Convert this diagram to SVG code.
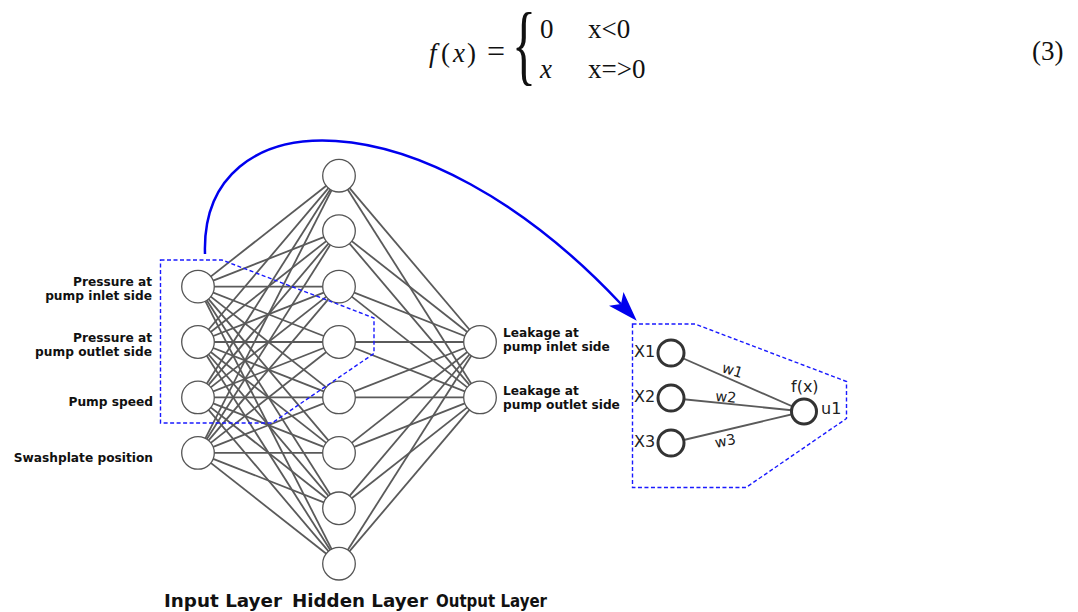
<svg xmlns="http://www.w3.org/2000/svg" width="1078" height="612" viewBox="0 0 1078 612">
<style>
.eq{font-family:"Liberation Serif","Times New Roman",serif;font-size:27px;fill:#111}
.it{font-style:italic}
.lbl{font-family:"DejaVu Sans",Verdana,sans-serif;font-size:12.2px;font-weight:bold;fill:#111}
.layer{font-family:"DejaVu Sans",Verdana,sans-serif;font-size:17px;font-weight:bold;fill:#111}
.ins{font-family:"DejaVu Sans",Verdana,sans-serif;font-size:16px;fill:#222}
.w{font-family:"DejaVu Sans",Verdana,sans-serif;font-size:14.5px;fill:#222}
.edge{stroke:#5a5a5a;stroke-width:1.8;fill:none}
.node{fill:#fff;stroke:#555;stroke-width:1.3}
.inode{fill:#fff;stroke:#333;stroke-width:3}
.dash{fill:none;stroke:#1a1aff;stroke-width:1.4;stroke-dasharray:4 2.5}
</style>
<defs>
<marker id="arr" markerUnits="userSpaceOnUse" markerWidth="31" markerHeight="21" viewBox="0 0 31 21" refX="7" refY="10.5" orient="auto">
<path d="M0,0.5 L30,10.5 L0,20.5 L7,10.5 z" fill="#0000ee"/>
</marker>
</defs>
<rect width="1078" height="612" fill="#fff"/>

<g id="equation">
<text class="eq" y="62"><tspan class="it" x="429">f</tspan><tspan x="441">(</tspan><tspan class="it" x="453">x</tspan><tspan x="467">)</tspan><tspan x="487" style="font-size:32px">=</tspan></text>
<text class="eq" transform="translate(512,74) scale(1,1.78)" style="font-size:50px">{</text>
<text class="eq" x="540" y="38">0</text>
<text class="eq" x="588" y="38">x&lt;0</text>
<text class="eq it" x="540" y="78">x</text>
<text class="eq" x="588" y="78">x=&gt;0</text>
<text class="eq" x="1032" y="60">(3)</text>
</g>

<g id="connectors">
<g class="edge">
<line x1="198" y1="286.6" x2="339" y2="175.7"/><line x1="198" y1="286.6" x2="339" y2="231.1"/><line x1="198" y1="286.6" x2="339" y2="286.6"/><line x1="198" y1="286.6" x2="339" y2="342"/><line x1="198" y1="286.6" x2="339" y2="397.4"/><line x1="198" y1="286.6" x2="339" y2="452.9"/><line x1="198" y1="286.6" x2="339" y2="508.3"/><line x1="198" y1="286.6" x2="339" y2="563.7"/>
<line x1="198" y1="342" x2="339" y2="175.7"/><line x1="198" y1="342" x2="339" y2="231.1"/><line x1="198" y1="342" x2="339" y2="286.6"/><line x1="198" y1="342" x2="339" y2="342"/><line x1="198" y1="342" x2="339" y2="397.4"/><line x1="198" y1="342" x2="339" y2="452.9"/><line x1="198" y1="342" x2="339" y2="508.3"/><line x1="198" y1="342" x2="339" y2="563.7"/>
<line x1="198" y1="397.4" x2="339" y2="175.7"/><line x1="198" y1="397.4" x2="339" y2="231.1"/><line x1="198" y1="397.4" x2="339" y2="286.6"/><line x1="198" y1="397.4" x2="339" y2="342"/><line x1="198" y1="397.4" x2="339" y2="397.4"/><line x1="198" y1="397.4" x2="339" y2="452.9"/><line x1="198" y1="397.4" x2="339" y2="508.3"/><line x1="198" y1="397.4" x2="339" y2="563.7"/>
<line x1="198" y1="452.9" x2="339" y2="175.7"/><line x1="198" y1="452.9" x2="339" y2="231.1"/><line x1="198" y1="452.9" x2="339" y2="286.6"/><line x1="198" y1="452.9" x2="339" y2="342"/><line x1="198" y1="452.9" x2="339" y2="397.4"/><line x1="198" y1="452.9" x2="339" y2="452.9"/><line x1="198" y1="452.9" x2="339" y2="508.3"/><line x1="198" y1="452.9" x2="339" y2="563.7"/>
<line x1="339" y1="175.7" x2="480" y2="342"/><line x1="339" y1="175.7" x2="480" y2="397.4"/>
<line x1="339" y1="231.1" x2="480" y2="342"/><line x1="339" y1="231.1" x2="480" y2="397.4"/>
<line x1="339" y1="286.6" x2="480" y2="342"/><line x1="339" y1="286.6" x2="480" y2="397.4"/>
<line x1="339" y1="342" x2="480" y2="342"/><line x1="339" y1="342" x2="480" y2="397.4"/>
<line x1="339" y1="397.4" x2="480" y2="342"/><line x1="339" y1="397.4" x2="480" y2="397.4"/>
<line x1="339" y1="452.9" x2="480" y2="342"/><line x1="339" y1="452.9" x2="480" y2="397.4"/>
<line x1="339" y1="508.3" x2="480" y2="342"/><line x1="339" y1="508.3" x2="480" y2="397.4"/>
<line x1="339" y1="563.7" x2="480" y2="342"/><line x1="339" y1="563.7" x2="480" y2="397.4"/>
<line x1="671" y1="353" x2="804" y2="411.5"/><line x1="671" y1="398" x2="804" y2="411.5"/><line x1="671" y1="443" x2="804" y2="411.5"/>
</g>
<path d="M205,254 C200,100 420,90 621,304" fill="none" stroke="#0000ee" stroke-width="2.5" marker-end="url(#arr)"/>
</g>

<g id="input-layer">
<circle class="node" cx="198" cy="286.6" r="16.3"/>
<circle class="node" cx="198" cy="342" r="16.3"/>
<circle class="node" cx="198" cy="397.4" r="16.3"/>
<circle class="node" cx="198" cy="452.9" r="16.3"/>
<text class="lbl" text-anchor="end"><tspan x="152" y="285.5">Pressure at</tspan><tspan x="152" y="299.5">pump inlet side</tspan></text>
<text class="lbl" text-anchor="end"><tspan x="152" y="341.5">Pressure at</tspan><tspan x="152" y="355.5">pump outlet side</tspan></text>
<text class="lbl" text-anchor="end" x="153" y="406">Pump speed</text>
<text class="lbl" text-anchor="end" x="153" y="462">Swashplate position</text>
</g>

<g id="hidden-layer">
<circle class="node" cx="339" cy="175.7" r="16.3"/>
<circle class="node" cx="339" cy="231.1" r="16.3"/>
<circle class="node" cx="339" cy="286.6" r="16.3"/>
<circle class="node" cx="339" cy="342" r="16.3"/>
<circle class="node" cx="339" cy="397.4" r="16.3"/>
<circle class="node" cx="339" cy="452.9" r="16.3"/>
<circle class="node" cx="339" cy="508.3" r="16.3"/>
<circle class="node" cx="339" cy="563.7" r="16.3"/>
</g>

<g id="output-layer">
<circle class="node" cx="480" cy="342" r="16.3"/>
<circle class="node" cx="480" cy="397.4" r="16.3"/>
<text class="lbl"><tspan x="503" y="337">Leakage at</tspan><tspan x="503" y="351">pump inlet side</tspan></text>
<text class="lbl"><tspan x="503" y="395">Leakage at</tspan><tspan x="503" y="409">pump outlet side</tspan></text>
</g>

<g id="selection">
<polygon class="dash" points="160.5,260 222,260 374,318 374,353.5 272,423 160.5,423"/>
</g>

<g id="neuron-detail">
<polygon class="dash" points="632.5,324 695,324 846.5,381.5 846.5,418.5 746,487.5 632.5,487.5"/>
<circle class="inode" cx="671" cy="353" r="13"/>
<circle class="inode" cx="671" cy="398" r="13"/>
<circle class="inode" cx="671" cy="443" r="13"/>
<circle class="inode" cx="804" cy="411.5" r="12.5"/>
<text class="ins" x="634" y="357">X1</text>
<text class="ins" x="634" y="402">X2</text>
<text class="ins" x="634" y="447">X3</text>
<text class="ins" x="791" y="392">f(x)</text>
<text class="ins" x="821" y="414">u1</text>
<text class="w" transform="translate(721,372) rotate(17)">w1</text>
<text class="w" transform="translate(715,401) rotate(5)">w2</text>
<text class="w" transform="translate(716,448) rotate(-12)">w3</text>
</g>

<g id="layer-titles">
<text class="layer" x="164" y="607" textLength="118" lengthAdjust="spacingAndGlyphs">Input Layer</text>
<text class="layer" x="292" y="607" textLength="136" lengthAdjust="spacingAndGlyphs">Hidden Layer</text>
<text class="layer" x="436" y="607" textLength="111" lengthAdjust="spacingAndGlyphs">Output Layer</text>
</g>
</svg>
